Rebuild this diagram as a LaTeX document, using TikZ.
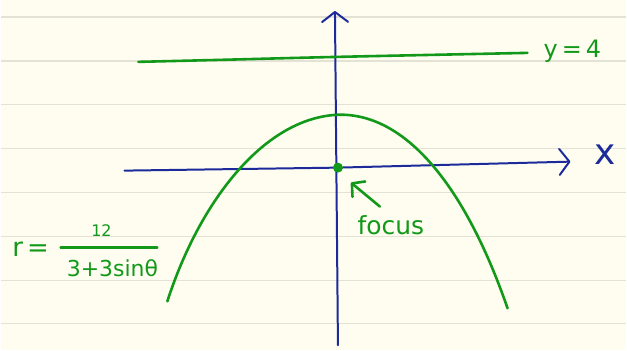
\documentclass[tikz,border=0pt]{standalone}
\usepackage{fontspec}
\setmainfont{DejaVu Sans}
\usetikzlibrary{arrows.meta}
\definecolor{paper}{HTML}{FEFDF0}
\definecolor{ruling}{HTML}{E4E2D5}
\definecolor{pen}{HTML}{1C2A9A}
\definecolor{ink}{HTML}{12991A}

\begin{document}
\begin{tikzpicture}[
    x=1pt, y=-1pt,
    axis/.style={draw=pen, line width=2pt, line cap=round, line join=round},
    curve/.style={draw=ink, line width=2.6pt, line cap=round, line join=round},
    tip/.style={-{Straight Barb[length=10pt, width=26pt, round]}},
    small tip/.style={-{Straight Barb[length=9pt, width=20pt, round]}},
    lbl/.style={text=ink, inner sep=0pt, font=\fontsize{22}{24}\selectfont},
]

% ================================================================ paper
\fill[paper] (0,0) rectangle (627,351);
\foreach \y in {17,61,105,149,193,237,281,324}{ \draw[ruling, line width=1.4pt] (0,\y) -- (627,\y); }
\useasboundingbox (0,0) rectangle (627,351);

% ================================================================ axes
\coordinate (o)  at (338,168);
\coordinate (xl) at (124,171);
\coordinate (xr) at (571,162);
\coordinate (yb) at (338,346);
\coordinate (yt) at (335,11);
\draw[axis, tip] (xl) -- (o) -- (xr);
\draw[axis, tip] (yb) -- (yt);
\node[lbl, text=pen, font=\fontsize{36}{38}\selectfont] (xlab) at (606,155) {x};

% ================================================================ directrix
\draw[curve] plot[smooth] coordinates {(138,62) (220,60) (338,57) (528,53)};
\node[lbl, font=\fontsize{24}{26}\selectfont] (dir) at (573,51) {y\,=\,4};

% ================================================================ parabola
\coordinate (pl) at (167,302);
\coordinate (pv) at (338,115);
\coordinate (pr) at (508,309);
\draw[curve] (pl) .. controls (200,200) and (265,118) .. (pv)
                  .. controls (405,113) and (465,185) .. (pr);

% focus and its label
\fill[ink] (o) circle (5pt);
\node[lbl, font=\fontsize{25}{27}\selectfont] (foc) at (391,226) {focus};
\coordinate (ftail) at (380,207);
\coordinate (fhead) at (351,183);
\draw[curve, small tip] (ftail) -- (fhead);

% ================================================================ equation
\node[lbl, font=\fontsize{26}{28}\selectfont] (eqr) at (30,250) {r\,=};
\node[lbl, font=\fontsize{16}{18}\selectfont] (num) at (101,231) {12};
\node[lbl] (den) at (112,269) {3+3sinθ};
\draw[curve, line width=2.2pt] (60,248) -- (157,248);
\end{tikzpicture}
\end{document}
